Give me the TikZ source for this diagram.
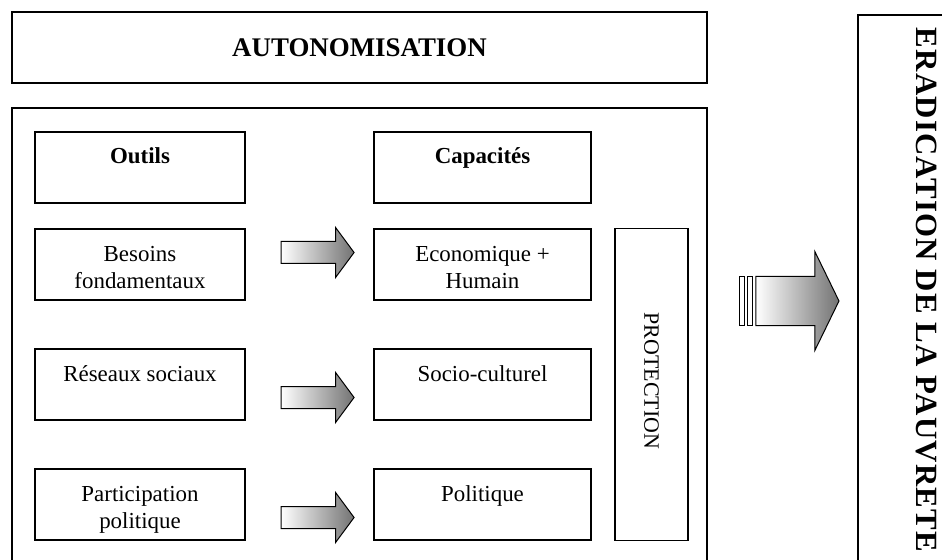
\documentclass[tikz,border=0pt]{standalone}
\usepackage{fontspec}
\setmainfont{Liberation Serif}
\newfontfamily\espace[LetterSpace=4, UprightFont={* Bold}]{Liberation Serif}
\usetikzlibrary{shapes.arrows,positioning}

\tikzset{
  cadre/.style={draw, line width=1.3bp, inner sep=0pt},
  boite/.style={cadre, minimum width=210bp, minimum height=71bp, align=center,
    text height=32bp, text depth=39bp, font=\fontsize{23}{27}\selectfont},
  deuxlignes/.style={boite, text height=59bp, text depth=12bp},
  fleche/.style={single arrow, draw, line width=1bp, inner sep=10.5bp, minimum height=73bp,
    single arrow head extend=14bp, single arrow tip angle=107,
    left color=white, right color=black!55},
  grandefleche/.style={fleche, inner sep=24bp, minimum height=83bp,
    single arrow head extend=25bp, single arrow tip angle=128},
  raie/.style={draw, line width=1bp, fill=white, minimum width=5bp, minimum height=48bp, inner sep=0pt}
}

\begin{document}
\begin{tikzpicture}[x=1bp, y=-1bp]
\useasboundingbox (0,0) rectangle (942,560);

% Titre et cadre de gauche
\node[cadre, minimum width=695bp, minimum height=71bp, font=\fontsize{27}{30}\selectfont\bfseries] (autonomisation) at (359.5,47.5) {AUTONOMISATION};
\node[cadre, line width=1.8bp, minimum width=695bp, minimum height=454bp] (cadre) at (359.5,335) {};

% Colonne des outils
\node[boite, font=\fontsize{23}{27}\selectfont\bfseries] (outils) at (140,167.5) {Outils};
\node[deuxlignes] (besoins) at (140,264.5) {Besoins\\fondamentaux};
\node[boite] (reseaux) at (140,384.5) {Réseaux sociaux};
\node[deuxlignes] (participation) at (140,504.5) {Participation\\politique};

% Colonne des capacites
\node[boite, minimum width=217bp, font=\fontsize{23}{27}\selectfont\bfseries] (capacites) at (482.5,167.5) {Capacités};
\node[deuxlignes, minimum width=217bp] (economique) at (482.5,264.5) {Economique +\\Humain};
\node[boite, minimum width=217bp] (socio) at (482.5,384.5) {Socio-culturel};
\node[boite, minimum width=217bp] (politique) at (482.5,504.5) {Politique};

% Fleches
\node[fleche] (fleche1) at (313.5,252.5) {};
\node[fleche] (fleche2) at (313.5,397.5) {};
\node[fleche] (fleche3) at (313.5,517.5) {};

\node[cadre, rotate=-90, minimum width=312bp, minimum height=73bp, font=\fontsize{22}{24}\selectfont] (protection) at (651.5,384.5) {\raisebox{0pt}{PROTECTION}\hspace*{7bp}};

% Grande fleche vers la droite
\node[grandefleche] (grande) at (791.5,301) {};
\node[raie, anchor=east] (raie1) at ([xshift=-2bp]grande.tail) {};
\node[raie, anchor=east] (raie2) at ([xshift=-2bp]raie1.west) {};

\node[cadre, rotate=-90, minimum width=550bp, minimum height=136bp, font=\fontsize{31}{34}\espace] (eradication) at (926,290) {ERADICATION DE LA PAUVRETE};
\end{tikzpicture}
\end{document}
